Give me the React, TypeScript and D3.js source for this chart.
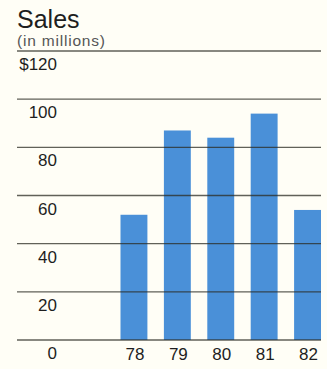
import React from "react";
import * as d3 from "d3";

const years = ["78", "79", "80", "81", "82"];
const sales = [52, 87, 84, 94, 54];
const yTicks = [0, 20, 40, 60, 80, 100, 120];
const yTickLabels = ["0", "20", "40", "60", "80", "100", "$120"];

const W = 327;
const H = 369;

export default function App() {
  const y = d3.scaleLinear().domain([0, 120]).range([340, 51]);
  const x = d3
    .scaleBand<string>()
    .domain(years)
    .range([120.5, 321])
    .paddingInner(0.38)
    .paddingOuter(0);
  const font = "'Liberation Sans', Arial, Helvetica, sans-serif";
  return (
    <svg
      width={W}
      height={H}
      style={{ position: "absolute", left: 0, top: 0 }}
      fontFamily={font}
    >
      <rect x={0} y={0} width={W} height={H} fill="#fffef6" />
      <text x={17} y={28} fontSize={25} fill="#1e1e1e">
        Sales
      </text>
      <text x={17} y={45.5} fontSize={15.5} letterSpacing={0.8} fill="#555">
        (in millions)
      </text>
      {years.map((yr, i) => (
        <rect
          key={yr}
          x={x(yr)}
          y={y(sales[i])}
          width={x.bandwidth()}
          height={y(0) - y(sales[i])}
          fill="#4a90d8"
        />
      ))}
      {yTicks.map((t) => (
        <line
          key={t}
          x1={17}
          x2={321}
          y1={y(t)}
          y2={y(t)}
          stroke="#2c2c24"
          strokeOpacity={0.75}
          strokeWidth={1.4}
        />
      ))}
      {yTicks.map((t, i) => (
        <text
          key={"l" + t}
          x={57}
          y={y(t) + 19}
          fontSize={17}
          textAnchor="end"
          fill="#1e1e1e"
        >
          {yTickLabels[i]}
        </text>
      ))}
      {years.map((yr) => (
        <text
          key={"x" + yr}
          x={(x(yr) as number) + x.bandwidth() / 2 + 1}
          y={359.5}
          fontSize={17}
          textAnchor="middle"
          fill="#1e1e1e"
        >
          {yr}
        </text>
      ))}
    </svg>
  );
}
